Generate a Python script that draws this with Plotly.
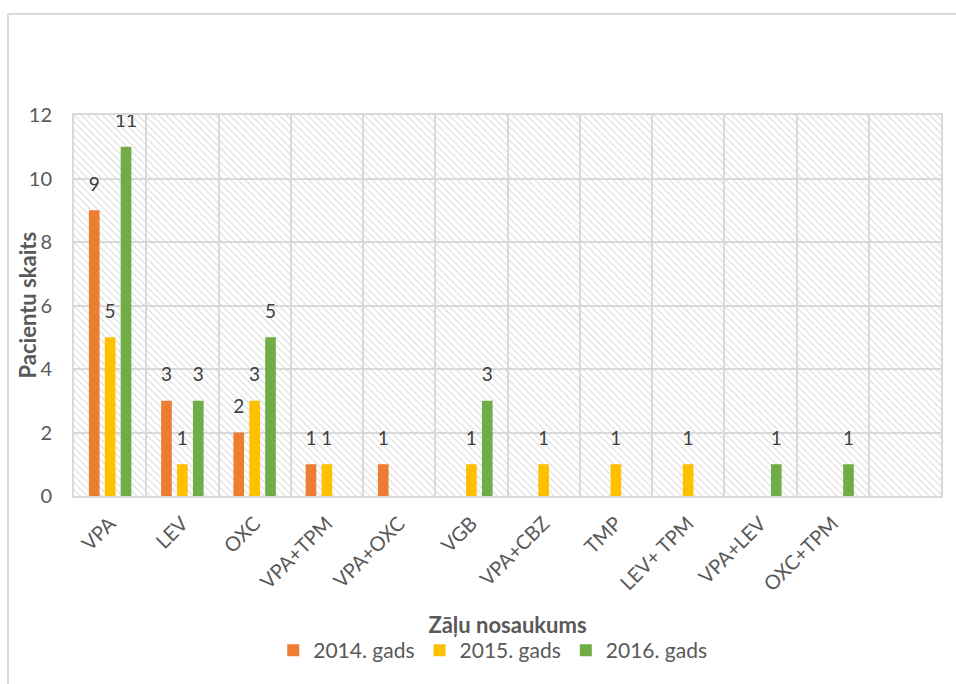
import plotly.graph_objects as go

categories = ["VPA", "LEV", "OXC", "VPA+TPM", "VPA+OXC", "VGB", "VPA+CBZ",
              "TMP", "LEV+ TPM", "VPA+LEV", "OXC+TPM", " "]
series_names = ["2014. gads", "2015. gads", "2016. gads"]
vals_2014 = [9, 3, 2, 1, 1, 0, 0, 0, 0, 0, 0, 0]
vals_2015 = [5, 1, 3, 1, 0, 1, 1, 1, 1, 0, 0, 0]
vals_2016 = [11, 3, 5, 0, 0, 3, 0, 0, 0, 1, 1, 0]
y_ticks = [0, 2, 4, 6, 8, 10, 12]
colors = ["#ED7D31", "#FFC000", "#70AD47"]

FONT = "Lato, 'Open Sans', sans-serif"
TXT = "#595959"
GAP = 0.34

fig = go.Figure()

# hatched plot background (decoration) on the base axes
fig.add_trace(go.Bar(
    x=categories, y=[max(y_ticks)] * len(categories), width=1,
    xaxis="x", yaxis="y",
    marker=dict(color="rgba(0,0,0,0)", line=dict(width=0),
                pattern=dict(shape="\\", fillmode="replace", fgcolor="#d6d6d6",
                             bgcolor="rgba(0,0,0,0)", size=5, solidity=0.2)),
    hoverinfo="skip", showlegend=False,
))

all_vals = [vals_2014, vals_2015, vals_2016]
for i, (name, vals, col) in enumerate(zip(series_names, all_vals, colors)):
    fig.add_trace(go.Bar(
        x=categories, y=vals, name=name, xaxis="x2", yaxis="y2",
        offsetgroup=str(i), alignmentgroup="a",
        marker=dict(color=col, line=dict(width=0)),
    ))

# value labels (zeros unlabeled), grouped like the bars
for i, (name, vals) in enumerate(zip(series_names, all_vals)):
    fig.add_trace(go.Scatter(
        x=categories, y=[v if v else None for v in vals],
        text=[str(v) if v else "" for v in vals],
        mode="markers+text", textposition="top center",
        marker=dict(size=22, opacity=0),
        textfont=dict(family=FONT, size=19, color="#404040"),
        xaxis="x2", yaxis="y2", offsetgroup=str(i), alignmentgroup="a",
        showlegend=False, hoverinfo="skip", cliponaxis=False,
    ))

fig.update_layout(
    width=956, height=684,
    margin=dict(l=74, r=15, t=115, b=188, autoexpand=False),
    paper_bgcolor="white", plot_bgcolor="white",
    font=dict(family=FONT, size=20, color=TXT),
    barmode="group", bargap=GAP, bargroupgap=0.33,
    scattermode="group", scattergap=GAP,
    xaxis=dict(
        type="category", categoryorder="array", categoryarray=categories,
        tickson="boundaries", showgrid=True, gridcolor="#d9d9d9", gridwidth=2,
        showline=True, linecolor="#d9d9d9", linewidth=2, mirror=True,
        ticks="", tickangle=-45, tickfont=dict(size=20, color=TXT),
        ticklabelstandoff=6, automargin=False,
        title=dict(text="<b>Zāļu nosaukums</b>", font=dict(size=22, color=TXT), standoff=23),
        range=[-0.5, len(categories) - 0.5],
    ),
    yaxis=dict(
        range=[0, 12], tickvals=y_ticks, showgrid=True, gridcolor="#d9d9d9", gridwidth=2,
        showline=True, linecolor="#d9d9d9", linewidth=2, mirror=True,
        ticks="", tickfont=dict(size=20, color=TXT), zeroline=False,
        ticklabelstandoff=16, automargin=False,
    ),
    xaxis2=dict(
        type="category", categoryorder="array", categoryarray=categories,
        overlaying="x", visible=False, range=[-0.5, len(categories) - 0.5],
    ),
    yaxis2=dict(overlaying="y", visible=False, range=[0, 12]),
    legend=dict(orientation="h", x=0.483, xanchor="center", y=-0.352, yanchor="top",
                font=dict(size=21, color=TXT), itemwidth=30, tracegroupgap=0,
                itemclick=False),
    annotations=[
        dict(text="<b>Pacientu skaits</b>", textangle=-90, xref="paper", yref="paper",
             x=(27 - 74) / 867, y=0.5, xanchor="center", yanchor="middle",
             showarrow=False, font=dict(size=22, color=TXT)),
    ],
    shapes=[
        dict(type="line", xref="paper", yref="paper",
             x0=-66 / 867, x1=1.05, y0=1 + 101 / 381, y1=1 + 101 / 381,
             line=dict(color="#d9d9d9", width=2)),
        dict(type="line", xref="paper", yref="paper",
             x0=-66 / 867, x1=-66 / 867, y0=1 + 101 / 381, y1=-0.6,
             line=dict(color="#d9d9d9", width=2)),
    ],
)

fig.write_html("out.html")
